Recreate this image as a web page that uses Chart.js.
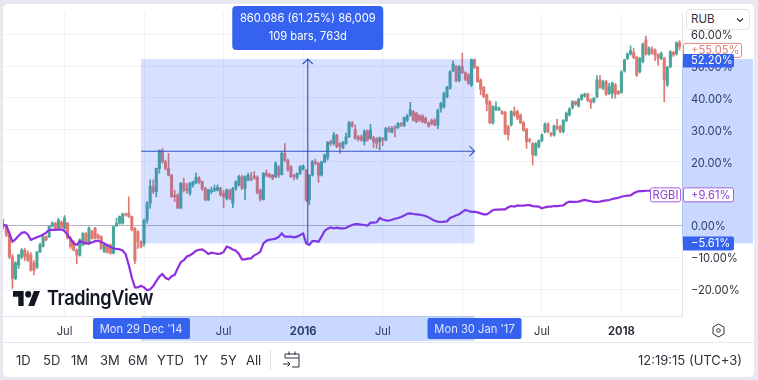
<!DOCTYPE html>
<html><head><meta charset="utf-8">
<script src="https://cdn.jsdelivr.net/npm/chart.js@4"></script>
<style>
html,body{margin:0;padding:0;width:758px;height:380px;overflow:hidden;background:#e8e9f0;font-family:Inter,"Noto Sans",sans-serif;color:#2a2e39}
#wrap{position:absolute;left:0;top:0;width:758px;height:380px;filter:blur(.4px)}
#card{position:absolute;left:3px;top:4px;width:751px;height:373px;background:#fff;border-radius:5px}
canvas{position:absolute;left:0;top:0}
#sep{position:absolute;left:3px;width:751px;top:342px;height:1px;background:#e6e8ee}
.t{position:absolute;font-size:13px;line-height:16px;top:352px;color:#2f323c;white-space:nowrap}
#rub{position:absolute;left:686px;top:9px;width:64px;height:21px;box-sizing:border-box;background:#fff;border:1px solid #dfe1e8;border-radius:4px;font-size:11.5px;line-height:19px;padding-left:4px;color:#2f323c}
#rub svg{position:absolute;right:5px;top:7px}
#logo{position:absolute;left:13px;top:291px;width:27px;height:15px}
#brand{position:absolute;left:47px;top:286px;font-size:20.5px;line-height:24px;font-weight:600;color:#131722;letter-spacing:-.45px;transform:scaleX(.885);transform-origin:left center}
#vs{position:absolute;left:270px;top:350px;width:1px;height:20px;background:#e0e3eb}
</style></head><body>
<div id="wrap">
<div id="card"></div>
<div id="sep"></div>
<canvas id="c" width="758" height="380"></canvas>
<svg id="logo" viewBox="0 4 35.5 18" preserveAspectRatio="none"><path fill="#131722" d="M14 22H7V11H0V4h14v18zM28 22h-8l7.5-18h8L28 22z"/><circle fill="#131722" cx="20" cy="8" r="4"/></svg>
<div id="brand">TradingView</div>
<div id="rub">RUB<svg width="8" height="6" viewBox="0 0 8 6"><path d="M1 1.5l3 3 3-3" fill="none" stroke="#2f323c" stroke-width="1.2"/></svg></div>
<svg style="position:absolute;left:711px;top:323px" width="15" height="15" viewBox="0 0 15 15"><path d="M7.5 1l5.5 3.2v6.6L7.5 14 2 10.8V4.2z" fill="none" stroke="#2f323c" stroke-width="1"/><circle cx="7.5" cy="7.5" r="1.8" fill="none" stroke="#2f323c"/></svg>
<span class="t" style="left:16px">1D</span><span class="t" style="left:43px">5D</span><span class="t" style="left:71px">1M</span><span class="t" style="left:100px">3M</span><span class="t" style="left:128px">6M</span><span class="t" style="left:157px">YTD</span><span class="t" style="left:194px">1Y</span><span class="t" style="left:220px">5Y</span><span class="t" style="left:246px">All</span>
<div id="vs"></div>
<svg style="position:absolute;left:282px;top:350px" width="19" height="19" viewBox="0 0 19 19"><path d="M3 8V4h14v13h-7M3 8h14M7 1.5V5M13 1.5V5M1 14h7M5.5 11.5L8 14l-2.5 2.5" fill="none" stroke="#2f323c" stroke-width="1"/></svg>
<span class="t" style="left:638px">12:19:15 (UTC+3)</span>
</div>
<script>
const tickIdx=[20,46,72,98,124,150,176,202];
const tickText=['Jul','','Jul','2016','Jul','','Jul','2018'];
const yTicks=[60,50,40,30,20,0,-10,-20];
const yTickText=['60.00%','50.00%','40.00%','30.00%','20.00%','0.00%','\u221210.00%','\u221220.00%'];
const selStart=45, selEnd=154, selTop=52.20, selBottom=-5.61;
const lastPrice=55.05, lastRgbi=9.61;
const tooltipLines=['860.086 (61.25%) 86,009','109 bars, 763d'];
const selStartLabel="Mon 29 Dec '14", selEndLabel="Mon 30 Jan '17";
const opens=[0.4,0,-3,-9.8,-16.6,-12.4,-9.8,-7.7,-8.8,-9.3,-11.8,-13,-8.2,-6.4,-3.5,-3.5,-0.2,0.7,-0.9,1,-0.9,0.7,-4,-5.1,-7.7,-9.3,-6.1,-2.5,-5.6,-1.9,-0.9,-3,-3.5,-8.2,-6.1,-6.1,-8.7,-0.1,0.7,0.7,3.6,3.8,2.8,-1,-2,-5.1,
-5.6,1.7,7,12.2,10.6,17.9,23.5,20,17.9,15.8,9.5,9.5,5.4,13.2,11.3,10.1,12.7,13.4,14.8,13.7,11.6,8,10.6,11.1,11.1,11.6,10.1,8.5,11.1,7,11.6,12.7,15.3,11.6,14.3,14.8,15.5,15.1,11.1,8.2,16.4,16,15.8,15.3,18.4,16,22.6,20.5,18.4,15.8,15,16.3,17.7,17.4,8,15.8,20,19.5,15.8,20,21.3,26.3,25.7,28.4,25.7,24.4,25.7,27.8,32.2,29.9,27.8,27.8,26.3,29.6,27.3,27.5,27.3,26.3,27.3,26.8,30.5,29.2,31,30.7,32,31.3,33,34.6,35.7,35.2,34.4,34.3,33.6,32.2,33,33,31.5,36.7,37.2,40.4,43,48.5,49.8,45.4,49.8,47.9,47.2,44,52,49.6,45.6,43.3,40.9,38.8,32.2,36.4,36.2,35.7,35.4,31,31.5,35.7,35.7,34.6,32.2,30.1,26.8,25.7,22.1,24.7,26.6,29.4,31.8,28.9,28.4,31,31,29.4,32.9,34.7,37,38.8,37.5,39.6,40.6,41.2,39.4,38.8,40.4,45.6,43,45.1,41.4,41.4,44.1,42,41.8,48.5,52.4,53.8,54.2,52.7,48.2,51.4,58.2,53.8,55.2,55,53.5,52.4,52.4,44.1,49.8,54.2,53.8,57.3];
const closes=[-0.2,-3,-9.8,-16.6,-11.8,-9.3,-7.7,-9.8,-10.8,-14,-14,-8.2,-6.1,-3.5,-4.5,-0.2,0.7,-0.9,1.7,-0.5,2.3,-4,-6.6,-7.7,-9.3,-4.5,-2.5,-5.6,-0.9,-4,-4,-4,-7.2,-6.1,-8.4,-8.7,-0.4,0.7,2.8,3.6,3.3,2.8,-1.4,-11,-5,-6.7,
1.7,7,12.2,10.6,17.9,23.5,20,17.9,15.8,9,9,5.4,13.2,11.1,11.1,13.2,13.7,15.1,13.7,11.6,8,11.1,11.1,11.6,12,9.6,9,11.1,8.5,11.6,13.7,15.3,11.6,15.3,15.8,14.3,14.8,10.1,8.2,16.4,15.6,15.3,14.8,19.5,15.8,22.6,20.5,17.4,15.3,15.3,16.3,18.4,18.7,8,15.8,20,19.5,15.8,20,22.1,26.1,25.7,28.4,24.7,24.7,26.1,27.8,32.2,31.2,27.3,27.1,26.8,29.6,26.8,29.9,26.3,25.7,27.5,26.8,30.5,29.6,30.5,30.5,32,31.5,33.8,34.4,36.2,33,32.5,33,32.5,32.2,31.2,31.8,31.5,36.2,38.3,41.4,43.3,48.2,50.6,45.4,49.8,47.9,45.8,44.6,52,49.6,45.1,42.7,40.4,38.1,32.2,37.2,37.2,36.7,35.1,28.9,28.4,35.7,34.6,33.6,32.2,29.9,26.3,26.6,22.1,25.7,26.6,28.4,31.8,29.4,28.4,31.2,30.5,29.4,32.9,35.2,36.5,38.8,38.1,39.6,40.9,41.2,39.2,38.5,39.9,45.6,43.3,45.1,41.2,43.5,44.6,41.2,41.4,48.2,51.9,53.8,54.8,52.7,47.2,52.4,56.9,53.8,55.6,54,53.5,52.4,54,45.6,49.6,54.5,53.5,57.3,56];
const highs=[2,0.4,-2.5,-9,-11.3,-9,-7.2,-7.2,-8,-8.5,-11,-8.2,-5.5,-3.2,-3.2,0,1.2,1,2.3,1.4,3.1,1,-3.5,-4.8,-7.4,-4.2,-2.2,-2.2,-0.4,-1.5,-0.6,-2.6,-3.2,-5.8,-5.8,-5.8,-0.1,2.3,3,3.9,3.9,9,3,-0.6,-1.6,-4.8,
2,7.5,14.3,14.3,18,23.7,24.1,20.5,22.6,16,11.1,10,13.5,14.8,13.2,13.6,13.9,16.4,15.3,14,12,11.4,12,12.7,12.7,12,11,11.5,11.4,12,14,15.8,15.8,15.6,16.4,16.6,16.9,15.6,11.5,16.6,17.4,16.4,16,20,18.8,23.1,25.7,20.8,18.8,16,16.5,18.8,19,17.6,16,20.4,20.8,19.8,20.2,22.4,26.3,26.8,29.2,28.6,26,26.4,29,32.7,32.6,31.5,28.2,28.4,30,30,31.7,28,27.6,27.8,27.6,30.8,31,31,31.3,32.3,32.3,34.1,34.8,38.6,36,35.5,34.7,34.8,34,32.5,33.4,33.5,36.5,38.6,41.8,43.6,48.6,51.6,50.2,50.2,54,48.2,47.6,52.2,52.2,50,46,43.6,41.2,39.2,37.6,38.8,37.2,36,35.8,31.4,36,37.2,36.2,35,32.6,30.5,27.4,26,26,26.9,28.7,32.2,32.2,29.2,31.5,33.3,31.4,33.2,35.6,36.9,39.2,39.1,39.9,41.2,41.5,41.5,39.7,40.2,47,47,45.5,45.5,44.6,45,44.5,42.3,48.5,52.2,54.1,56.3,55.5,53,52.7,57.2,59.4,56,56,55.4,53.9,54.4,52.8,50,54.8,54.6,57.6,58];
const lows=[-1,-3.5,-10.5,-19.7,-17,-13.5,-10.5,-11,-11.3,-14.3,-15.5,-13.5,-8.5,-6.8,-4.8,-3.8,-0.5,-1.2,-1.2,-0.8,-1.2,-4.2,-7.2,-8,-12,-9.6,-6.4,-5.9,-5.9,-4.3,-4.3,-4.3,-7.5,-8.5,-8.7,-9,-8.9,-0.4,0.4,0.4,3,2.5,-1.7,-12,-7.2,-7,
-6.5,0.7,5.4,10,9,16.4,19.5,17.4,15.5,8.8,7.5,5.4,5.4,10.5,10.1,9.5,12,13,13,11,7.8,7.8,10,10.6,10.8,9.2,5.6,8,8,5.6,11,12.4,11.3,8,14,14,14.5,10,7.6,8,15.3,15,14.3,15,15,15.8,20,17,15,14.3,14.5,16,17.4,7.5,6.6,15.5,19,13.5,15.5,19.6,20.5,25,25.2,24.4,22.6,24,25.4,27.5,30.8,27,26.5,26.4,25.2,26.4,27,24.4,24.2,23.7,25,26.5,29.2,29,27.8,30.4,31,31,32.6,34.2,32.7,32.2,32.6,32.2,31.9,30.8,31.5,31.2,30.4,35.5,36.8,40,42.7,48.2,45,45,47.6,45.4,44.2,43.5,49.2,44.8,41,40,36,31.9,31.8,36,36,34.8,28.5,26.8,31.2,34.2,33.2,31.9,29.5,24.2,26,19,21.8,24.3,26.2,29,29,27.9,28,30,29,29,32.5,34.3,36.5,37.6,37.1,39.2,40.2,38.8,36.7,38.4,40,43,42.6,40.8,41,39.9,39.9,41,41.4,48.1,52,53.4,52.3,46.7,47.8,51,53.4,53.4,53.6,51.7,50.3,52,38.8,43.5,49.4,53,53.4,55];
const rgbi=[0.2,-0.05,-2.5,-5.1,-4.3,-3.2,-2.3,-2.1,-2.8,-4.5,-4.1,-3.7,-3.3,-2.9,-2.2,-1.4,-1.4,-1.4,-1.3,-1.2,-1.7,-3,-4.2,-5.6,-6.1,-4.9,-5.3,-5.6,-5.6,-5.3,-4.9,-4.8,-5.2,-5.6,-6.2,-6.7,-7.2,-7.3,-7.5,-7.8,-9,-12.4,-16.3,-19.4,-19.4,-18.9,-19.4,-20.3,-20,-19,-17.4,-16,-15.2,-16.4,-16.9,-15.9,-15.5,-13.4,-11.5,-10.9,-9.7,-9.35,-8.7,-7.9,-7.6,-7.5,-8.1,-8.9,-8.5,-8.7,-8.9,-8.8,-8.3,-6.6,-6.95,-7.5,-7.9,-8.9,-10.6,-10.6,-10.4,-10.3,-9.35,-8.9,-8.2,-5.6,-4.75,-4.45,-4.3,-4.1,-3.6,-2.5,-3.5,-3.5,-3.5,-3.7,-3.5,-3,-2.5,-5.6,-6.1,-4.9,-4.9,-5.1,-3.5,-1.7,-1,-0.6,-0.9,-0.7,-0.9,-0.9,-0.8,-0.2,0.15,0.45,0.45,0.25,0.15,-0.05,0.9,0.9,1,2.35,1.9,1.6,1.5,1.8,2.1,2.35,2.65,3.1,3.7,3.8,3.6,3.5,3.4,3.2,3,2.55,2,1.5,1.2,1.1,1.2,1.3,2.35,2.75,3.2,3.5,4.3,4.85,4.55,4.3,4.3,4.1,3.8,3.5,3.5,4.1,4.85,4.95,4.95,5.05,5.05,5.7,6.1,5.9,6.3,6.2,6.2,6.4,6.4,6.1,6,5.9,5.4,5.7,5.9,5.9,6.1,6.1,6.2,6.3,7.05,7.5,7.4,7.4,7.5,7.8,8,7.8,7.6,7.4,7.4,7.5,7.7,7.9,8,8.3,8.5,8.7,9,9.25,9.35,9.45,10.1,10.6,10.8,10.8,10.9,10.9,10.9,10.8,10.6,10.4,10.2,10,9.9,9.8,9.7,9.61];

const UP='#4aa59a',DOWN='#de7870',BLUE='#3562ef',LINE='#8f2fe0',ARROW='#2f55c0',FONT='Inter',FS='11.2px ';
const cc=ctx=>closes[ctx.dataIndex]>=opens[ctx.dataIndex]?UP:DOWN;

function rr(g,x,y,w,h,r,fill,stroke){g.beginPath();g.roundRect(x,y,w,h,r);if(fill){g.fillStyle=fill;g.fill();}if(stroke){g.strokeStyle=stroke;g.lineWidth=1;g.stroke();}}
function txt(g,s,x,y,col,al){g.fillStyle=col;g.textAlign=al||'left';g.textBaseline='middle';g.font=FS+FONT;g.fillText(s,x,y);}

const overlay={id:'overlay',afterDatasetsDraw(ch){
 const g=ch.ctx,X=ch.scales.x,Y=ch.scales.y,a=ch.chartArea;
 const x0=X.getPixelForValue(selStart),x1=X.getPixelForValue(selEnd),y0=Y.getPixelForValue(selTop),y1=Y.getPixelForValue(selBottom);
 const mx=(x0+x1)/2,my=(y0+y1)/2;
 g.save();
 g.fillStyle='rgba(41,98,255,0.19)';g.fillRect(x0,y0,x1-x0,y1-y0);
 g.strokeStyle=ARROW;g.lineWidth=1.1;g.beginPath();
 g.moveTo(x0,my);g.lineTo(x1,my);g.moveTo(x1-5,my-5);g.lineTo(x1,my);g.lineTo(x1-5,my+5);
 g.moveTo(mx,y1);g.lineTo(mx,y0);g.moveTo(mx-5,y0+5);g.lineTo(mx,y0);g.lineTo(mx+5,y0+5);g.stroke();
 g.fillStyle='rgba(41,98,255,0.25)';
 g.fillRect(a.right,y0,753-a.right,y1-y0);
 g.fillRect(x0,a.bottom,x1-x0,25);
 rr(g,mx-75.5,6,151,44,4,BLUE);
 txt(g,tooltipLines[0],mx,19,'#fff','center');txt(g,tooltipLines[1],mx,37,'#fff','center');
 rr(g,x0-48,a.bottom+2,97,21,2,BLUE);txt(g,selStartLabel,x0,a.bottom+14,'#dfe6ff','center');
 rr(g,x1-47,a.bottom+2,94,21,2,BLUE);txt(g,selEndLabel,x1,a.bottom+14,'#dfe6ff','center');
 const yP=Y.getPixelForValue(lastPrice),yR=Y.getPixelForValue(lastRgbi);
 rr(g,683.5,yP-6.5,58,14,2,'#fff','#dc8a84');txt(g,'+'+lastPrice.toFixed(2)+'%',691,yP+1,'#dc7f78');
 rr(g,683,y0-5,51,13.5,[0,2,2,0],BLUE);txt(g,selTop.toFixed(2)+'%',691,y0+2,'#fff');
 rr(g,683,y1-7,51,14,[0,2,2,0],BLUE);txt(g,'\u2212'+Math.abs(selBottom).toFixed(2)+'%',691,y1+.5,'#fff');
 rr(g,650.5,yR-7,30,14,2,'#fff','#a55ee0');txt(g,'RGBI',665.5,yR+.5,'#8e3fcf','center');
 rr(g,683.5,yR-7,50,14,2,'#fff','#a55ee0');txt(g,'+'+lastRgbi.toFixed(2)+'%',691,yR+.5,'#8e3fcf');
 g.restore();
}};

new Chart(document.getElementById('c'),{
 type:'bar',
 plugins:[overlay],
 data:{datasets:[
  {type:'bar',order:3,data:highs.map((h,i)=>({x:i,y:[lows[i],h]})),backgroundColor:cc,barThickness:1,grouped:false},
  {type:'bar',order:2,data:opens.map((o,i)=>({x:i,y:[o,closes[i]]})),backgroundColor:cc,barThickness:2.4,minBarLength:1,grouped:false},
  {type:'line',order:1,data:rgbi.map((v,i)=>({x:i,y:v})),borderColor:LINE,borderWidth:2.2,pointRadius:0,tension:0,fill:false}
 ]},
 options:{
  responsive:false,animation:false,
  layout:{padding:{left:3,top:12,right:0,bottom:0}},
  plugins:{legend:{display:false},tooltip:{enabled:false}},
  scales:{
   x:{type:'linear',min:-0.1,max:221.8,offset:false,
    grid:{color:'#f0f2f6',offset:false,drawTicks:false},
    border:{color:'#e4e6ec'},
    afterFit(s){s.height=64;s.paddingLeft=0;s.paddingRight=0;},
    afterBuildTicks(s){s.ticks=tickIdx.map(v=>({value:v}));},
    ticks:{autoSkip:false,maxRotation:0,padding:9,color:'#2f323c',
     font:ctx=>({family:FONT,size:11.2,weight:(tickText[tickIdx.indexOf(ctx.tick&&ctx.tick.value)]||'').startsWith('20')?'700':'400'}),
     callback:v=>tickText[tickIdx.indexOf(v)]??''}},
   y:{type:'linear',position:'right',min:-28.37,max:66.93,
    grid:{color:ctx=>ctx.tick&&ctx.tick.value===0?'#b5b7c0':'#f0f2f6',drawTicks:false},
    border:{color:'#e4e6ec'},
    afterFit(s){s.width=76;s.paddingTop=0;s.paddingBottom=0;},
    afterBuildTicks(s){s.ticks=yTicks.map(v=>({value:v}));},
    ticks:{padding:9,labelOffset:1.5,color:'#2f323c',font:{family:FONT,size:11.2},align:'center',crossAlign:'near',
     callback:v=>yTickText[yTicks.indexOf(v)]??''}}
  }
 }
});
</script>
</body></html>
